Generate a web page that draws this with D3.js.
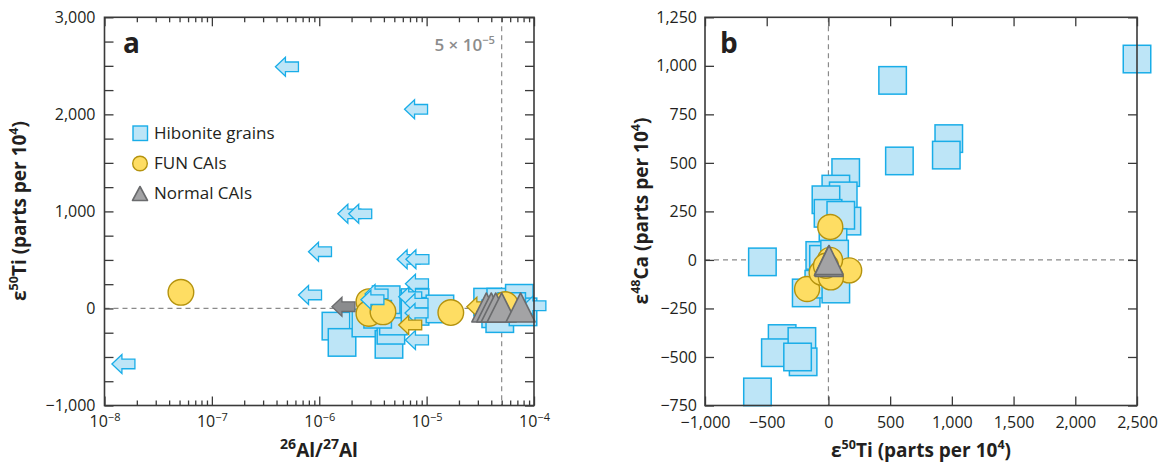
<!DOCTYPE html>
<html>
<head>
<meta charset="utf-8">
<script src="https://cdn.jsdelivr.net/npm/d3@7"></script>
<style>
  body { margin: 0; background: #fff; }
  svg { display: block; font-family: "Open Sans", "Noto Sans", sans-serif; }
</style>
</head>
<body>
<svg id="chart" width="1160" height="462"></svg>
<script>
// ---------- Panel a: 26Al/27Al vs e50Ti ----------
// Hibonite grains with resolved 26Al/27Al  [26Al/27Al, e50Ti]
const hiboniteA = [
  [1.43e-6, -182], [1.63e-6, -350], [2.72e-6, -150], [4.46e-6, -370],
  [4.65e-6, -225], [4.9e-6, -130], [4.8e-6, 45], [4.2e-6, 90],
  [3.5e-6, -60], [7.8e-6, 60], [7.8e-6, -30], [1.33e-5, -5],
  [3.7e-5, 65], [4.4e-5, -55], [4.9e-5, 65], [4.8e-5, -105],
  [7.3e-5, 105], [7.9e-5, -35], [6.2e-5, 20]
];
// Hibonite grains with upper limits only  [26Al/27Al limit, e50Ti]
const hiboniteLimitsA = [
  [6.4e-7, 2490], [1.02e-5, 2052], [2.44e-6, 975], [3.08e-6, 975],
  [1.3e-6, 585], [8.7e-6, 506], [1.05e-5, 506], [1.05e-6, 139],
  [1.92e-8, -572], [1.04e-5, 255], [1.04e-5, -325], [4.37e-6, 150],
  [4.0e-6, 90], [9.0e-6, 121], [1.03e-5, 55], [1.03e-5, -47],
  [1.29e-4, 28]
];
// FUN CAIs  [26Al/27Al, e50Ti]
const funA = [
  [5.15e-8, 166], [2.9e-6, 70], [2.9e-6, -52], [3.92e-6, -35],
  [1.68e-5, -42], [5.4e-5, 40]
];
const funLimitsA = [[9.0e-6, -170], [3.88e-5, 18]];
// Normal CAIs  [26Al/27Al, e50Ti]
const normalA = [[3.6e-5, 10], [4.0e-5, 10], [4.4e-5, 10], [5.0e-5, 10], [7.5e-5, 10]];
const normalLimitsA = [[2.15e-6, 18]];
const canonicalRatio = 5e-5;

const xTicksA = [1e-8, 1e-7, 1e-6, 1e-5, 1e-4];
const xTickExpA = ["\u22128", "\u22127", "\u22126", "\u22125", "\u22124"];
const yTicksA = [-1000, 0, 1000, 2000, 3000];

// ---------- Panel b: e50Ti vs e48Ca ----------
const hiboniteB = [
  [2500, 1035], [520, 925], [975, 625], [955, 540], [575, 510],
  [-535, -10], [-575, -680], [-375, -405], [-430, -478], [-215, -420],
  [-205, -525], [-250, -500], [140, 450], [60, 365], [120, 330],
  [-20, 310], [150, 200], [-3, 240], [100, 230], [37, 90],
  [-70, 23], [-40, 3], [50, 30], [-180, -170], [35, -115],
  [-78, -125], [60, -150]
];
const funB = [[15, 170], [-173, -150], [168, -54], [13, 0], [-55, -66], [20, -90], [-20, -30]];
const normalB = [[0, -5], [5, -10], [5, 0]];

const xTicksB = [-1000, -500, 0, 500, 1000, 1500, 2000, 2500];
const yTicksB = [-750, -500, -250, 0, 250, 500, 750, 1000, 1250];

// ---------- styles ----------
const C = {
  hibFill: "#bde5f7", hibStroke: "#19ade8",
  funFill: "#fedd63", funStroke: "#b5930e",
  triFill: "#a3a3a5", triStroke: "#6a6b6d",
  grayArrow: "#8b8c8e",
  axis: "#3a3a3a", text: "#231f20", dash: "#8a8a8a"
};
const SQ = 27.5, R = 12.8, TRI_W = 29, TRI_H = 29;
const TICK_FONT = 16, TITLE_FONT = 19;

const svg = d3.select("#chart");
const plotTop = 17.3, plotBottom = 405.5;

// ---------- helpers ----------
function richText(sel, parts, size, supScale = 0.66) {
  parts.forEach((p, i) => {
    const t = sel.append("tspan").text(p.t);
    if (p.sup) {
      t.attr("font-size", size * supScale).attr("dy", -size * 0.4);
    } else if (i > 0 && parts[i - 1].sup) {
      t.attr("dy", size * 0.4);
    }
  });
  return sel;
}

function square(g, cx, cy) {
  g.append("rect").attr("x", cx - SQ / 2).attr("y", cy - SQ / 2)
    .attr("width", SQ).attr("height", SQ)
    .attr("fill", C.hibFill).attr("stroke", C.hibStroke).attr("stroke-width", 1.5);
}
function circle(g, cx, cy, r) {
  g.append("circle").attr("cx", cx).attr("cy", cy).attr("r", r)
    .attr("fill", C.funFill).attr("stroke", C.funStroke).attr("stroke-width", 1.4);
}
function triangle(g, cx, cy, w, h) {
  const p = [[cx, cy - h / 2], [cx + w / 2, cy + h / 2], [cx - w / 2, cy + h / 2]];
  g.append("path").attr("d", "M" + p.join("L") + "Z")
    .attr("fill", C.triFill).attr("stroke", C.triStroke).attr("stroke-width", 1.6)
    .attr("stroke-linejoin", "round");
}
// left-pointing arrow whose tail sits on the limit value
function arrow(g, tx, cy, fill, stroke) {
  const L = 23, hl = 10, hh = 9.5, bh = 4.8;
  const x0 = tx - L;
  const d = `M${x0},${cy} L${x0 + hl},${cy - hh} L${x0 + hl},${cy - bh} L${tx},${cy - bh}` +
            ` L${tx},${cy + bh} L${x0 + hl},${cy + bh} L${x0 + hl},${cy + hh} Z`;
  g.append("path").attr("d", d).attr("fill", fill).attr("stroke", stroke)
    .attr("stroke-width", 1.3).attr("stroke-linejoin", "miter");
}

function styleAxis(g) {
  g.select(".domain").remove();
  g.selectAll(".tick line").attr("stroke", C.axis).attr("stroke-width", 1.3);
  g.selectAll(".tick text").attr("fill", C.text).attr("font-size", TICK_FONT)
    .attr("font-family", "'Open Sans', sans-serif");
}

function frame(x0, x1) {
  svg.append("rect").attr("x", x0).attr("y", plotTop).attr("width", x1 - x0).attr("height", plotBottom - plotTop)
    .attr("fill", "none").attr("stroke", C.axis).attr("stroke-width", 1.6);
}

function dashed(g, x1, y1, x2, y2) {
  g.append("line").attr("x1", x1).attr("y1", y1).attr("x2", x2).attr("y2", y2)
    .attr("stroke", C.dash).attr("stroke-width", 1.2).attr("stroke-dasharray", "5,4");
}

// ================= Panel a =================
const xA = d3.scaleLog().domain([1e-8, 1e-4]).range([104.5, 534]);
const yA = d3.scaleLinear().domain([-1000, 3000]).range([plotBottom, plotTop]);

const minorA = [];
for (let e = -8; e < -4; e++) for (let m = 2; m <= 9; m++) minorA.push(m * Math.pow(10, e));
const yAllA = d3.range(-1000, 3001, 250);

const gA = svg.append("g");
dashed(gA, xA.range()[0], yA(0), xA.range()[1], yA(0));
dashed(gA, xA(canonicalRatio), plotTop, xA(canonicalRatio), plotBottom);

// axes
gA.append("g").attr("transform", `translate(0,${plotBottom})`)
  .call(d3.axisBottom(xA).tickValues(minorA).tickSize(-5).tickFormat("")).call(styleAxis);
gA.append("g").attr("transform", `translate(0,${plotTop})`)
  .call(d3.axisTop(xA).tickValues(minorA).tickSize(-5).tickFormat("")).call(styleAxis);
gA.append("g").attr("transform", `translate(0,${plotTop})`)
  .call(d3.axisTop(xA).tickValues(xTicksA).tickSize(-9).tickFormat("")).call(styleAxis);
const axBA = gA.append("g").attr("transform", `translate(0,${plotBottom})`)
  .call(d3.axisBottom(xA).tickValues(xTicksA).tickSize(-9).tickPadding(10).tickFormat(() => "10"))
  .call(styleAxis);
axBA.selectAll(".tick text").each(function (d, i) {
  d3.select(this).append("tspan").attr("font-size", 11).attr("dy", -6).text(xTickExpA[i]);
});
gA.append("g").attr("transform", `translate(${xA.range()[0]},0)`)
  .call(d3.axisLeft(yA).tickValues(yAllA).tickSize(-9).tickPadding(9)
    .tickFormat(d => yTicksA.includes(d) ? d3.format(",")(d) : "")).call(styleAxis);
gA.append("g").attr("transform", `translate(${xA.range()[1]},0)`)
  .call(d3.axisRight(yA).tickValues(yAllA).tickSize(-9).tickFormat("")).call(styleAxis);
frame(xA.range()[0], xA.range()[1]);

// data marks
const mA = gA.append("g");
hiboniteA.forEach(d => square(mA, xA(d[0]), yA(d[1])));
funA.forEach(d => circle(mA, xA(d[0]), yA(d[1]), R));
hiboniteLimitsA.forEach(d => arrow(mA, xA(d[0]), yA(d[1]), C.hibFill, C.hibStroke));
funLimitsA.forEach(d => arrow(mA, xA(d[0]), yA(d[1]), C.funFill, C.funStroke));
normalA.forEach(d => triangle(mA, xA(d[0]), yA(d[1]), TRI_W, TRI_H));
normalLimitsA.forEach(d => arrow(mA, xA(d[0]), yA(d[1]), C.grayArrow, C.triStroke));

// labels
svg.append("text").attr("x", 123).attr("y", 53).attr("font-size", 28).attr("font-weight", 700)
  .attr("fill", C.text).text("a");
richText(svg.append("text").attr("x", 495).attr("y", 51).attr("text-anchor", "end")
  .attr("font-size", 17).attr("font-weight", 600).attr("fill", "#8c8c8c"),
  [{ t: "5 \u00d7 10" }, { t: "\u22125", sup: true }], 17);

// legend
const lg = svg.append("g");
lg.append("rect").attr("x", 133).attr("y", 126).attr("width", 14.5).attr("height", 14.5)
  .attr("fill", C.hibFill).attr("stroke", C.hibStroke).attr("stroke-width", 1.4);
circle(lg, 140, 163.5, 7.3);
triangle(lg, 140, 193.5, 15, 14);
[["Hibonite grains", 139], ["FUN CAIs", 169], ["Normal CAIs", 199]].forEach(([t, y]) =>
  lg.append("text").attr("x", 154).attr("y", y).attr("font-size", 17).attr("fill", C.text).text(t));

// axis titles
richText(svg.append("text").attr("transform", "translate(26,211) rotate(-90)")
  .attr("text-anchor", "middle").attr("font-size", TITLE_FONT).attr("font-weight", 700).attr("fill", C.text),
  [{ t: "\u03b5" }, { t: "50", sup: true }, { t: "Ti (parts per 10" }, { t: "4", sup: true }, { t: ")" }], TITLE_FONT);
richText(svg.append("text").attr("x", 319).attr("y", 457)
  .attr("text-anchor", "middle").attr("font-size", TITLE_FONT).attr("font-weight", 700).attr("fill", C.text),
  [{ t: "26", sup: true }, { t: "Al/" }, { t: "27", sup: true }, { t: "Al" }], TITLE_FONT, 0.74);

// ================= Panel b =================
const xB = d3.scaleLinear().domain([-1000, 2500]).range([705, 1137]);
const yB = d3.scaleLinear().domain([-750, 1250]).range([plotBottom, plotTop]);

const gB = svg.append("g");
dashed(gB, xB.range()[0], yB(0), xB.range()[1], yB(0));
dashed(gB, xB(0), plotTop, xB(0), plotBottom);

gB.append("g").attr("transform", `translate(0,${plotBottom})`)
  .call(d3.axisBottom(xB).tickValues(xTicksB).tickSize(-9).tickPadding(11).tickFormat(d3.format(",")))
  .call(styleAxis);
gB.append("g").attr("transform", `translate(0,${plotTop})`)
  .call(d3.axisTop(xB).tickValues(xTicksB).tickSize(-9).tickFormat("")).call(styleAxis);
gB.append("g").attr("transform", `translate(${xB.range()[0]},0)`)
  .call(d3.axisLeft(yB).tickValues(yTicksB).tickSize(-9).tickPadding(8).tickFormat(d3.format(",")))
  .call(styleAxis);
gB.append("g").attr("transform", `translate(${xB.range()[1]},0)`)
  .call(d3.axisRight(yB).tickValues(yTicksB).tickSize(-9).tickFormat("")).call(styleAxis);
frame(xB.range()[0], xB.range()[1]);

const mB = gB.append("g");
hiboniteB.forEach(d => square(mB, xB(d[0]), yB(d[1])));
funB.forEach(d => circle(mB, xB(d[0]), yB(d[1]), 12.5));
normalB.forEach(d => triangle(mB, xB(d[0]), yB(d[1]), 28, 29));

svg.append("text").attr("x", 720).attr("y", 53).attr("font-size", 28).attr("font-weight", 700)
  .attr("fill", C.text).text("b");

richText(svg.append("text").attr("transform", "translate(648,211) rotate(-90)")
  .attr("text-anchor", "middle").attr("font-size", TITLE_FONT).attr("font-weight", 700).attr("fill", C.text),
  [{ t: "\u03b5" }, { t: "48", sup: true }, { t: "Ca (parts per 10" }, { t: "4", sup: true }, { t: ")" }], TITLE_FONT);
richText(svg.append("text").attr("x", 921).attr("y", 457)
  .attr("text-anchor", "middle").attr("font-size", TITLE_FONT).attr("font-weight", 700).attr("fill", C.text),
  [{ t: "\u03b5" }, { t: "50", sup: true }, { t: "Ti (parts per 10" }, { t: "4", sup: true }, { t: ")" }], TITLE_FONT);
</script>
</body>
</html>
